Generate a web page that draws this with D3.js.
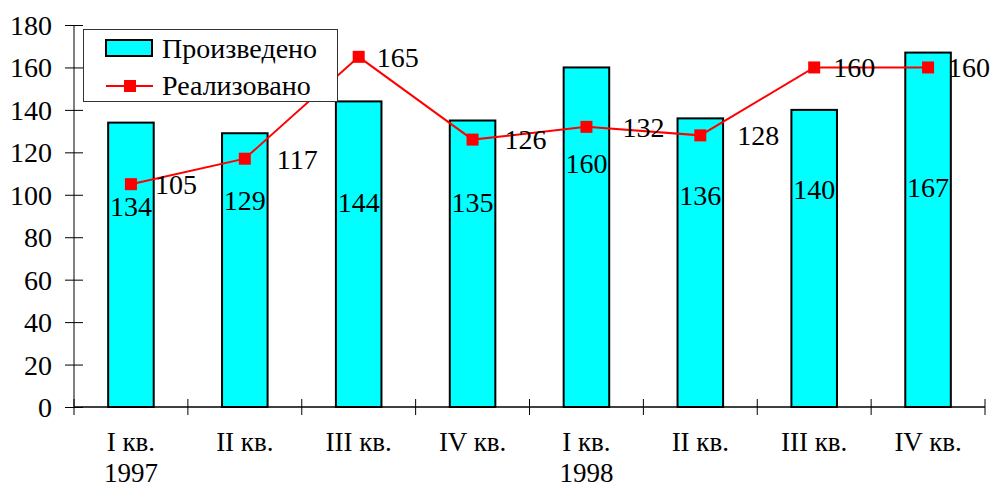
<!DOCTYPE html>
<html><head><meta charset="utf-8">
<script src="https://cdn.jsdelivr.net/npm/d3@7"></script>
<style>body{margin:0;background:#fff}svg{display:block}svg text{font-family:"Liberation Serif","Times New Roman",serif !important;fill:#000}</style>
</head><body>
<script>
const quarters = ["I кв.", "II кв.", "III кв.", "IV кв.", "I кв.", "II кв.", "III кв.", "IV кв."];
const years = ["1997", "", "", "", "1998", "", "", ""];
const produced = [134, 129, 144, 135, 160, 136, 140, 167];
const sold = [105, 117, 165, 126, 132, 128, 160, 160];
const yTicks = [0, 20, 40, 60, 80, 100, 120, 140, 160, 180];
const seriesNames = ["Произведено", "Реализовано"];
// label placement (layout, in value units / px)
const barLabelAt = [94.7, 97.4, 96.5, 96.5, 115, 100, 102.8, 103.7];
const lineLabelDx = [24, 32, 18, 32, 36, 37, 19, 20];

const W = 992, H = 488;
const m = {left: 74, right: 7, top: 25, bottom: 81};
const fs = 28, fsx = 27;

const svg = d3.select("body").append("svg").attr("width", W).attr("height", H);

const x = d3.scaleBand().domain(d3.range(quarters.length)).range([m.left, W - m.right]).paddingInner(0.6).paddingOuter(0.3);
const xb = d3.scaleBand().domain(d3.range(quarters.length)).range([m.left, W - m.right]);
const y = d3.scaleLinear().domain([0, 180]).range([H - m.bottom, m.top]);

// bars
svg.selectAll("rect.bar").data(produced).join("rect")
  .attr("x", (d, i) => x(i)).attr("width", x.bandwidth())
  .attr("y", d => y(d)).attr("height", d => y(0) - y(d))
  .attr("fill", "#00ffff").attr("stroke", "#000").attr("stroke-width", 2);

// y axis
const yAxis = svg.append("g").attr("transform", `translate(${m.left},0)`)
  .call(d3.axisLeft(y).tickValues(yTicks).tickSize(9).tickPadding(13));
yAxis.select(".domain").remove();
yAxis.append("line").attr("x1", 0).attr("x2", 0).attr("y1", y(180)).attr("y2", y(0)).attr("stroke", "#000");
yAxis.selectAll(".tick line").attr("x2", -9).clone().attr("x2", 9);
yAxis.selectAll(".tick text").attr("font-size", fs).attr("dy", "0.34em");

// x axis
const gx = svg.append("g");
gx.append("line").attr("x1", m.left).attr("x2", W - m.right).attr("y1", y(0)).attr("y2", y(0)).attr("stroke", "#000").attr("stroke-width", 1.5);
const bounds = d3.range(quarters.length + 1).map(i => i < quarters.length ? xb(i) : xb(i - 1) + xb.bandwidth());
gx.selectAll("line.t").data(bounds).join("line")
  .attr("x1", d => d).attr("x2", d => d).attr("y1", y(0) - 8).attr("y2", y(0) + 8).attr("stroke", "#000");
gx.selectAll("text.q").data(quarters).join("text")
  .attr("x", (d, i) => xb(i) + xb.bandwidth() / 2).attr("y", y(0) + 44)
  .attr("text-anchor", "middle").attr("font-size", fsx).text(d => d);
gx.selectAll("text.yr").data(years).join("text")
  .attr("x", (d, i) => xb(i) + xb.bandwidth() / 2).attr("y", y(0) + 75)
  .attr("text-anchor", "middle").attr("font-size", fsx).text(d => d);

// bar labels
svg.selectAll("text.bl").data(produced).join("text")
  .attr("x", (d, i) => x(i) + x.bandwidth() / 2).attr("y", (d, i) => y(barLabelAt[i]))
  .attr("dy", "0.35em").attr("text-anchor", "middle").attr("font-size", fs).text(d => d);

// line
const cx = i => xb(i) + xb.bandwidth() / 2;
svg.append("path").datum(sold)
  .attr("d", d3.line().x((d, i) => cx(i)).y(d => y(d)))
  .attr("fill", "none").attr("stroke", "#ff0000").attr("stroke-width", 2);
svg.selectAll("rect.mk").data(sold).join("rect")
  .attr("x", (d, i) => cx(i) - 6).attr("y", d => y(d) - 6).attr("width", 12).attr("height", 12)
  .attr("fill", "#ff0000");
svg.selectAll("text.ll").data(sold).join("text")
  .attr("x", (d, i) => cx(i) + lineLabelDx[i]).attr("y", d => y(d))
  .attr("dy", "0.35em").attr("font-size", fs).text(d => d);

// legend
const lg = svg.append("g");
lg.append("rect").attr("x", 83.5).attr("y", 29.5).attr("width", 254).attr("height", 72)
  .attr("fill", "#fff").attr("stroke", "#333").attr("stroke-width", 1);
lg.append("rect").attr("x", 106).attr("y", 40).attr("width", 46).attr("height", 16)
  .attr("fill", "#00ffff").attr("stroke", "#000").attr("stroke-width", 2);
lg.append("line").attr("x1", 106).attr("x2", 153).attr("y1", 86).attr("y2", 86).attr("stroke", "#ff0000").attr("stroke-width", 2);
lg.append("rect").attr("x", 124).attr("y", 80).attr("width", 12).attr("height", 12).attr("fill", "#ff0000");
lg.append("text").attr("x", 162).attr("y", 48).attr("dy", "0.35em").attr("font-size", fs).text(seriesNames[0]);
lg.append("text").attr("x", 162).attr("y", 85).attr("dy", "0.35em").attr("font-size", fs).text(seriesNames[1]);
</script>
</body></html>
